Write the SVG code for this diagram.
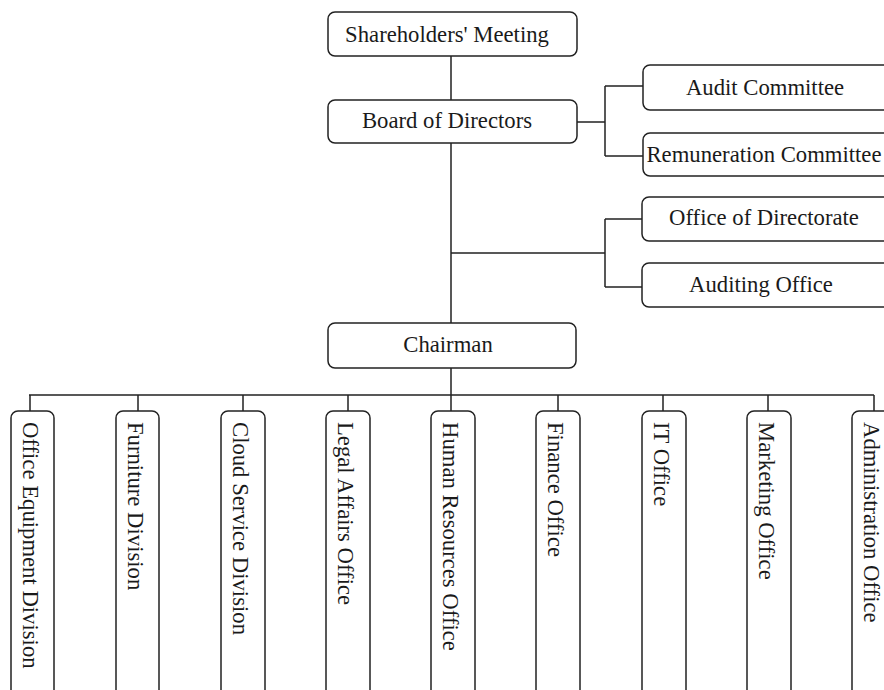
<svg xmlns="http://www.w3.org/2000/svg" width="884" height="690" viewBox="0 0 884 690">
<style>
.box{fill:#fff;stroke:#222;stroke-width:1.5}
.ln{fill:none;stroke:#222;stroke-width:1.5}
text{font-family:"Liberation Serif","Times New Roman",serif;font-size:22.7px;fill:#1a1a1a}
.c{text-anchor:middle}
</style>
<rect width="884" height="690" fill="#fff"/>
<g id="connectors" class="ln">
<path d="M451 56V323M577 122H605M605 86V156M605 86H643M605 156H643"/>
<path d="M451 253H605M605 219V287M605 219H643M605 287H643"/>
<path d="M451 368V395M29 395H874"/>
<path d="M30 395V411M138 395V411M243 395V411M348 395V411M451 395V411M558 395V411M663 395V411M768 395V411M874 395V411"/>
</g>
<g id="shareholders"><rect class="box" x="328" y="12" width="249" height="44" rx="7"/><text class="c" x="447" y="42">Shareholders' Meeting</text></g>
<g id="board"><rect class="box" x="328" y="100" width="249" height="43" rx="7"/><text class="c" x="447" y="128">Board of Directors</text></g>
<g id="audit-committee"><rect class="box" x="643" y="65" width="250" height="45" rx="7"/><text class="c" x="765" y="95">Audit Committee</text></g>
<g id="remuneration-committee"><rect class="box" x="643" y="133" width="250" height="43" rx="7"/><text class="c" x="764" y="162">Remuneration Committee</text></g>
<g id="office-directorate"><rect class="box" x="642" y="197" width="250" height="44" rx="7"/><text class="c" x="764" y="225">Office of Directorate</text></g>
<g id="auditing-office"><rect class="box" x="642" y="263" width="250" height="44" rx="7"/><text class="c" x="761" y="292">Auditing Office</text></g>
<g id="chairman"><rect class="box" x="328" y="323" width="248" height="45" rx="7"/><text class="c" x="448" y="352">Chairman</text></g>
<g id="office-equipment"><rect class="box" x="11" y="411" width="43" height="300" rx="7"/><text transform="translate(23,422) rotate(90)">Office Equipment Division</text></g>
<g id="furniture"><rect class="box" x="116" y="411" width="43" height="300" rx="7"/><text transform="translate(128,422) rotate(90)">Furniture Division</text></g>
<g id="cloud-service"><rect class="box" x="221" y="411" width="44" height="300" rx="7"/><text transform="translate(233,422) rotate(90)">Cloud Service Division</text></g>
<g id="legal-affairs"><rect class="box" x="326" y="411" width="44" height="300" rx="7"/><text transform="translate(338,422) rotate(90)">Legal Affairs Office</text></g>
<g id="human-resources"><rect class="box" x="431" y="411" width="44" height="300" rx="7"/><text transform="translate(443,422) rotate(90)">Human Resources Office</text></g>
<g id="finance"><rect class="box" x="536" y="411" width="44" height="300" rx="7"/><text transform="translate(548,422) rotate(90)">Finance Office</text></g>
<g id="it-office"><rect class="box" x="642" y="411" width="44" height="300" rx="7"/><text transform="translate(654,422) rotate(90)">IT Office</text></g>
<g id="marketing"><rect class="box" x="747" y="411" width="44" height="300" rx="7"/><text transform="translate(759,422) rotate(90)">Marketing Office</text></g>
<g id="administration"><rect class="box" x="852" y="411" width="44" height="300" rx="7"/><text transform="translate(864,422) rotate(90)">Administration Office</text></g>
</svg>
